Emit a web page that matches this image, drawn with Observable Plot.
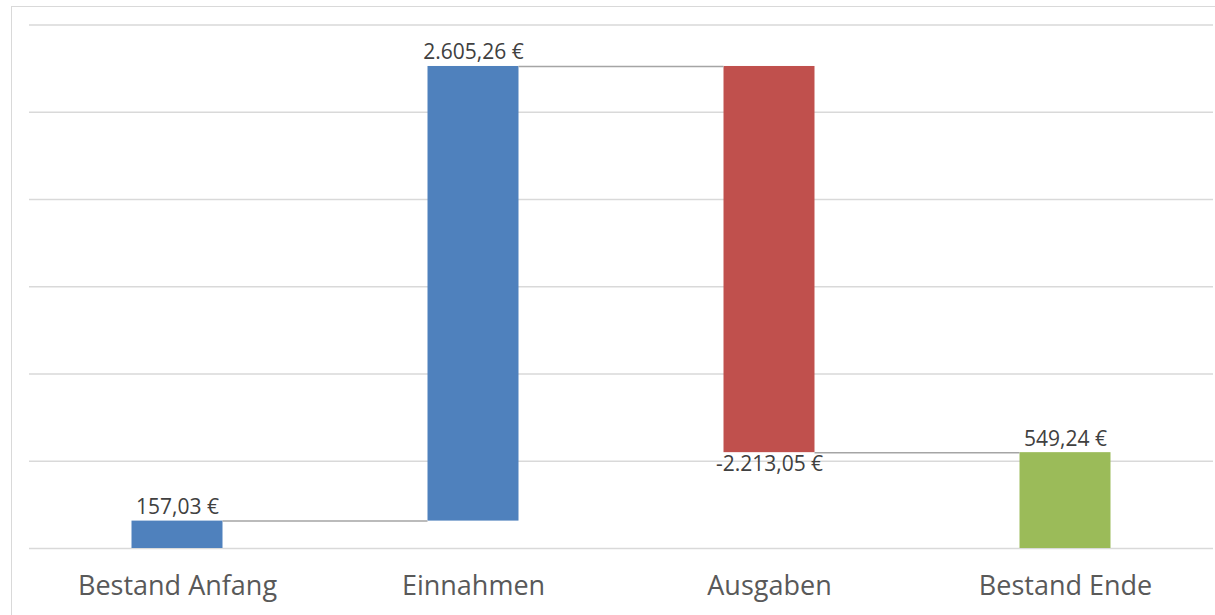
<!DOCTYPE html>
<html>
<head>
<meta charset="utf-8">
<script src="https://cdn.jsdelivr.net/npm/d3@7"></script>
<script src="https://cdn.jsdelivr.net/npm/@observablehq/plot@0.6"></script>
<style>
  html, body { margin: 0; padding: 0; background: #fff; overflow: hidden; }
  #wrap { position: relative; width: 1215px; height: 615px; }
  #frame { position: absolute; left: 11px; top: 6px; width: 1220px; height: 640px;
           border-left: 1.5px solid #d9d9d9; border-top: 1.5px solid #d9d9d9; box-sizing: border-box; }
  #chart { position: absolute; left: 0; top: 0; }
</style>
</head>
<body>
<div id="wrap"><div id="frame"></div><div id="chart"></div></div>
<script>
const categories = ["Bestand Anfang", "Einnahmen", "Ausgaben", "Bestand Ende"];
const values = [157.03, 2605.26, -2213.05, 549.24];
const isTotal = [false, false, false, true];
const labels = ["157,03 €", "2.605,26 €", "-2.213,05 €", "549,24 €"];
const colors = ["#4f81bd", "#4f81bd", "#c0504d", "#9bbb59"];
const yTicks = [0, 500, 1000, 1500, 2000, 2500, 3000];

let run = 0;
const data = categories.map((c, i) => {
  let start, end;
  if (isTotal[i]) { start = 0; end = values[i]; run = values[i]; }
  else if (i === 0) { start = 0; end = values[i]; run = end; }
  else { start = run; end = run + values[i]; run = end; }
  return { i, c, start, end, label: labels[i], color: colors[i], neg: values[i] < 0 };
});
const hw = 0.1537;
const links = data.slice(0, -1).map((d, k) => ({ x1: d.i + hw, x2: data[k + 1].i - hw, y: d.end }));

const chart = Plot.plot({
  width: 1215,
  height: 615,
  marginLeft: 29,
  marginRight: 2,
  marginTop: 24.5,
  marginBottom: 67,
  style: { fontFamily: "'Open Sans', sans-serif", background: "transparent" },
  x: { type: "linear", domain: [-0.5, 3.5] },
  y: { domain: [0, 3000], axis: null },
  marks: [
    Plot.ruleY(yTicks, { stroke: "#d9d9d9", strokeWidth: 1.5 }),
    Plot.rectY(data, { x1: d => d.i - hw, x2: d => d.i + hw, y1: "start", y2: "end", fill: "color" }),
    Plot.ruleY(links, { x1: "x1", x2: "x2", y: "y", stroke: "#a5a5a5", strokeWidth: 1.5 }),
    Plot.text(data.filter(d => !d.neg), { x: "i", y: "end", text: "label", dy: -7, lineAnchor: "bottom", fontSize: 21, fill: "#404040" }),
    Plot.text(data.filter(d => d.neg), { x: "i", y: "end", text: "label", dy: 3, lineAnchor: "top", fontSize: 21, fill: "#404040" }),
    Plot.axisX({ ticks: [0, 1, 2, 3], tickFormat: i => categories[i], tickSize: 0, tickPadding: 27, fontSize: 27, fill: "#595959", label: null }),
  ]
});
document.getElementById("chart").appendChild(chart);
</script>
</body>
</html>
